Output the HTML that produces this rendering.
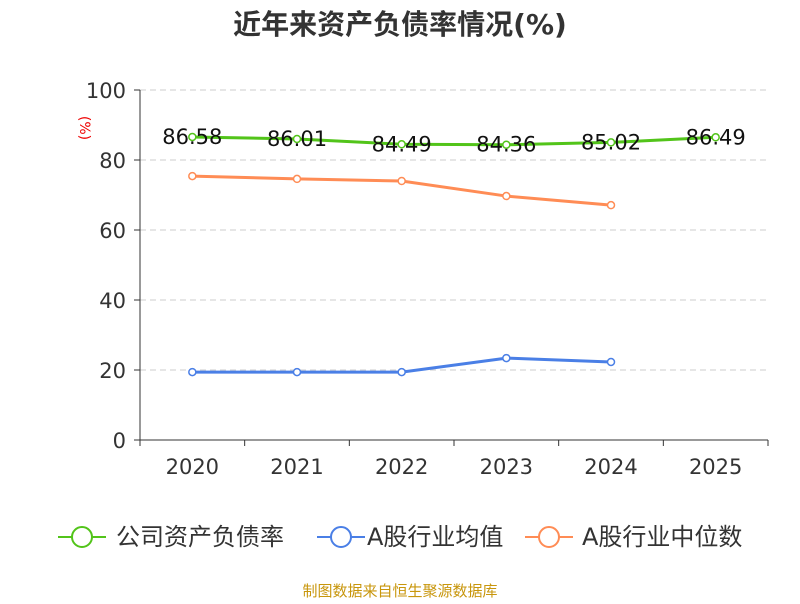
<!DOCTYPE html>
<html><head><meta charset="utf-8"><style>
body{margin:0;background:#fff;font-family:"DejaVu Sans","Noto Sans CJK SC",sans-serif}
</style></head><body>
<svg id="c" width="800" height="600" xmlns="http://www.w3.org/2000/svg" font-family="DejaVu Sans,Noto Sans CJK SC,sans-serif">
<text x="400" y="34" text-anchor="middle" font-size="28" font-weight="bold" fill="#333">近年来资产负债率情况(%)</text>
<text x="80" y="128" font-size="14" fill="#e00" transform="rotate(90 80 128)" text-anchor="middle">(%)</text>
<g id="grid"></g><g id="axes"></g><g id="series"></g>
<g font-size="24" fill="#333">
<g><line x1="58" y1="537" x2="106" y2="537" stroke="#52c41a" stroke-width="2"/><circle cx="82" cy="537" r="10" fill="#fff" stroke="#52c41a" stroke-width="2"/><text x="116" y="545">公司资产负债率</text></g>
<g><line x1="317" y1="537" x2="365" y2="537" stroke="#4a7fe6" stroke-width="2"/><circle cx="341" cy="537" r="10" fill="#fff" stroke="#4a7fe6" stroke-width="2"/><text x="367" y="545">A股行业均值</text></g>
<g><line x1="525" y1="537" x2="573" y2="537" stroke="#ff8c55" stroke-width="2"/><circle cx="549" cy="537" r="10" fill="#fff" stroke="#ff8c55" stroke-width="2"/><text x="582" y="545">A股行业中位数</text></g>
</g>
<text x="400" y="596" text-anchor="middle" font-size="15" fill="#c8960c">制图数据来自恒生聚源数据库</text>
</svg>
<script>
const categories=["2020","2021","2022","2023","2024","2025"];
const companyVals=[86.58,86.01,84.49,84.36,85.02,86.49];
const avgVals=[19.4,19.4,19.4,23.4,22.3];
const medianVals=[75.4,74.6,74.0,69.7,67.1];
const yTicks=[0,20,40,60,80,100];
const NS="http://www.w3.org/2000/svg";
const X0=140,X1=768,Y0=440,Y1=90;
const bw=(X1-X0)/categories.length;
const xs=i=>X0+bw*(i+0.5);
const ys=v=>Y0-(v/100)*(Y0-Y1);
function mk(t,a,p){const e=document.createElementNS(NS,t);for(const k in a)e.setAttribute(k,a[k]);p.appendChild(e);return e;}
const grid=document.getElementById('grid'),axes=document.getElementById('axes'),ser=document.getElementById('series');
yTicks.forEach(t=>{
 if(t>0){const l=mk('line',{x1:X0,x2:X1,y1:ys(t),y2:ys(t),stroke:'#ccc','stroke-dasharray':'6,4'},grid);
 
 }
 mk('line',{x1:X0-6,x2:X0,y1:ys(t),y2:ys(t),stroke:'#333'},axes);
 const tx=mk('text',{x:X0-14,y:ys(t)+8,'text-anchor':'end','font-size':21,fill:'#333'},axes);tx.textContent=t;
 
 
});
mk('line',{x1:X0,x2:X0,y1:Y1,y2:Y0,stroke:'#333'},axes);
mk('line',{x1:X0,x2:X1,y1:Y0,y2:Y0,stroke:'#333'},axes);
for(let i=0;i<=categories.length;i++)mk('line',{x1:X0+bw*i,x2:X0+bw*i,y1:Y0,y2:Y0+6,stroke:'#333'},axes);
categories.forEach((c,i)=>{const t=mk('text',{x:xs(i),y:474,'text-anchor':'middle','font-size':21,fill:'#333'},axes);t.textContent=c;
 
 });
function series(vals,color,name,labels){
 const p=mk('polyline',{points:vals.map((v,i)=>xs(i)+','+ys(v)).join(' '),fill:'none',stroke:color,'stroke-width':3},ser);
 
 
 vals.forEach((v,i)=>{const c=mk('circle',{cx:xs(i),cy:ys(v),r:3.5,fill:'#fff',stroke:color,'stroke-width':1.5},ser);
  
  
  if(labels){const t=mk('text',{x:xs(i),y:ys(v)+7,'text-anchor':'middle','font-size':21,fill:'#111'},ser);t.textContent=v.toFixed(2);
   
   }
 });
}
series(medianVals,'#ff8c55','industry-median',false);
series(avgVals,'#4a7fe6','industry-avg',false);
series(companyVals,'#52c41a','company',true);
</script>
</body></html>
